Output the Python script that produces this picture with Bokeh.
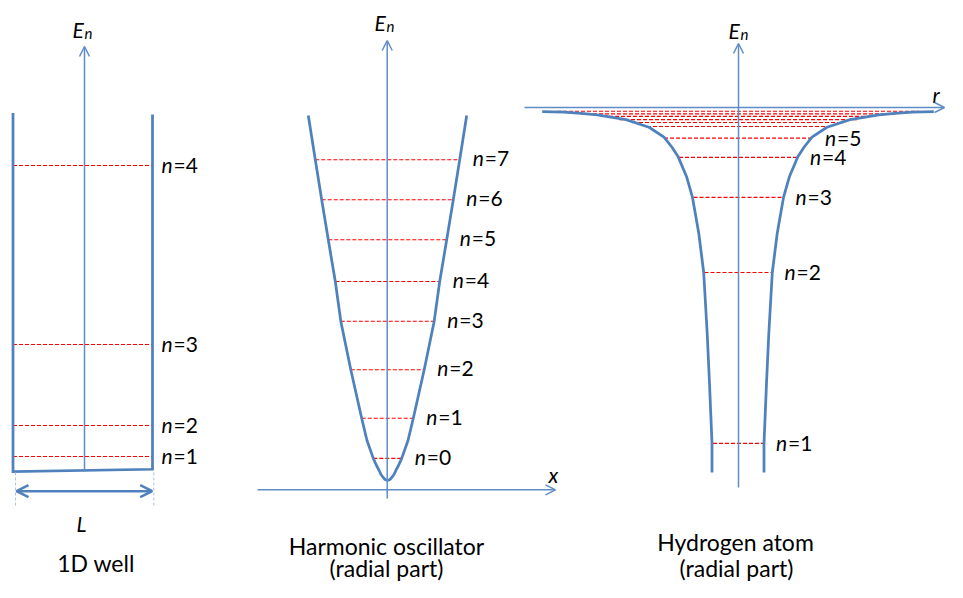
import numpy as np
from bokeh.plotting import figure
from bokeh.models import Range1d, Arrow, OpenHead, ColumnDataSource
from bokeh.embed import file_html
from bokeh.resources import INLINE
from bokeh.core.properties import value

# ---------------- data ----------------
# 1D well: energies above the well bottom (arbitrary units), wall outline (x in units of L)
well_n = [1, 2, 3, 4]
well_E = [1.0, 3.07, 8.47, 20.4]
well_wall_x = [0.0, 0.0, 1.0, 1.0]
well_wall_E = [23.9, 0.0, 0.15, 23.8]

# Harmonic oscillator: energies in units of hbar*omega, half-widths in arbitrary x units
ho_n = [0, 1, 2, 3, 4, 5, 6, 7]
ho_E = [0.52, 1.46, 2.60, 3.74, 4.67, 5.65, 6.59, 7.53]
ho_hw = [1.42, 2.58, 3.67, 4.67, 5.22, 5.92, 6.58, 7.22]
ho_wall_E = [0.0, 0.023, 0.077, 0.141, 0.235, 0.352, 0.52, 0.94, 1.46, 2.60, 3.74,
             4.67, 5.65, 6.59, 7.53, 8.57]
ho_wall_x = [0.0, 0.25, 0.45, 0.65, 0.84, 1.10, 1.42, 2.05, 2.58, 3.67, 4.67,
             5.22, 5.92, 6.58, 7.22, 7.92]

# Hydrogen atom: energies in eV, half-widths in arbitrary r units
hy_n = [1, 2, 3, 4, 5, 6, 7, 8, 9, 10, 11]
hy_E = [-13.6, -6.68, -3.64, -2.02, -1.24, -0.77, -0.61, -0.49, -0.36, -0.26, -0.15]
hy_hw = [2.5, 3.35, 4.45, 5.9, 7.4, 9.1, 10.5, 11.9, 13.5, 15.7, 18.1]
hy_labelled = 5
hy_wall_E = [-14.78, -13.6, -11.17, -9.15, -6.68, -5.10, -3.64, -2.79, -1.98, -1.61,
             -1.20, -0.80, -0.49, -0.30, -0.235, -0.19, -0.162]
hy_wall_r = [2.6, 2.6, 2.85, 3.08, 3.43, 3.92, 4.55, 5.15, 6.0, 6.6,
             7.4, 8.9, 11.2, 14.08, 15.7, 17.4, 19.58]

captions = ["1D well", "Harmonic oscillator", "(radial part)", "Hydrogen atom", "(radial part)"]

# ---------------- layout / style ----------------
W, H = 947, 582
X0, Y0 = 0, 0
BLUE = "#4F81BD"
AXC = "#5F8DC8"
RED = "#FF0000"
LIGHT = "#A9C4E6"
FONT = "Lato"
FS = "21px"
CAP_FS = "23px"

def xr(pix_at, px_per_unit, v_at=0.0):
    return Range1d(v_at + (X0 - pix_at) / px_per_unit, v_at + (X0 + W - pix_at) / px_per_unit)

def yr(pix_at, px_per_unit, v_at=0.0):
    return Range1d(v_at - (Y0 + H - pix_at) / px_per_unit, v_at + (pix_at - Y0) / px_per_unit)

p = figure(width=W, height=H, output_backend="svg", toolbar_location=None,
           x_range=Range1d(X0, X0 + W), y_range=Range1d(Y0 + H, Y0),
           x_axis_type=None, y_axis_type=None, min_border=0)
p.grid.visible = False
p.outline_line_color = None
p.background_fill_color = "white"
p.border_fill_color = "white"

p.extra_x_ranges = {"well": xr(12.5, 139.5), "ho": xr(387.0, 10.0), "hy": xr(737.5, 10.0)}
p.extra_y_ranges = {"well": yr(471.0, 15.0), "ho": yr(480.0, 42.6), "hy": yr(107.0, 24.7)}

def arrow(x0, y0, x1, y1, color=AXC, lw=1.5, size=10, both=False):
    head = dict(size=size, line_color=color, line_width=lw)
    a = Arrow(x_start=x0, y_start=y0, x_end=x1, y_end=y1, line_color=color, line_width=lw,
              end=OpenHead(**head), start=OpenHead(**head) if both else None)
    p.add_layout(a)

def txt(x, y, s, size=FS, style="normal", align="left", baseline="alphabetic", **kw):
    p.text(x=[x], y=[y], text=[s], text_font=value(FONT), text_font_size=value(size),
           text_font_style=style, text_align=align, text_baseline=baseline,
           text_color="black", **kw)

def n_labels(xs, ys, ns, rx, ry, gap, dy=-1):
    src = ColumnDataSource(dict(x=xs, y=ys, eq=["=%d" % k for k in ns], n=["n"] * len(ns)))
    common = dict(x="x", y="y", source=src, x_range_name=rx, y_range_name=ry,
                  text_font=value(FONT), text_font_size=value(FS), text_baseline="middle",
                  text_color="black", y_offset=dy)
    p.text(text="n", text_font_style="italic", x_offset=gap, **common)
    p.text(text="eq", x_offset=gap + 12, **common)

# ---- axes (drawn first, behind) ----
arrow(84, 471, 84, 46)
arrow(386.7, 498, 386.7, 40)
arrow(257, 489.3, 555, 489.3)
arrow(738, 487, 738, 43)
arrow(524, 107, 944, 107)

# ---- 1D well ----
p.segment(x0=[0.0] * 4, x1=[1.0] * 4, y0=well_E, y1=well_E, line_color=RED, line_width=1.1,
          line_dash="4 2", x_range_name="well", y_range_name="well")
p.line(well_wall_x, well_wall_E, line_color=BLUE, line_width=2.75, line_join="miter",
       x_range_name="well", y_range_name="well")
n_labels([1.0] * 4, well_E, well_n, "well", "well", 9)
p.segment(x0=[15, 153.3], x1=[15, 153.3], y0=[472, 472], y1=[507, 507], line_color=LIGHT,
          line_width=1, line_dash="3 2")
arrow(16, 490.7, 151.7, 490.7, color=BLUE, lw=2.5, size=12, both=True)
txt(81, 523, "L", style="italic", align="center")
txt(95.5, 562, captions[0], size=CAP_FS, align="center")

# ---- harmonic oscillator ----
hw = np.array(ho_hw)
p.segment(x0=-hw, x1=hw, y0=ho_E, y1=ho_E, line_color=RED, line_width=1.1, line_dash="4 2",
          x_range_name="ho", y_range_name="ho")
wx = np.array(ho_wall_x)
wE = np.array(ho_wall_E)
p.line(np.concatenate([-wx[::-1], wx[1:]]), np.concatenate([wE[::-1], wE[1:]]),
       line_color=BLUE, line_width=2.75, x_range_name="ho", y_range_name="ho")
n_labels(list(hw), ho_E, ho_n, "ho", "ho", 13, dy=-2)
txt(548, 474, "x", style="italic")
txt(386, 545, captions[1], size=CAP_FS, align="center")
txt(386, 567, captions[2], size=CAP_FS, align="center")

# ---- hydrogen atom ----
hh = np.array(hy_hw)
p.segment(x0=-hh, x1=hh, y0=hy_E, y1=hy_E, line_color=RED, line_width=1.1, line_dash="4 2",
          x_range_name="hy", y_range_name="hy")
hr = np.array(hy_wall_r)
p.multi_line(xs=[list(-hr), list(hr)], ys=[hy_wall_E, hy_wall_E], line_color=BLUE,
             line_width=2.75, line_join="round", x_range_name="hy", y_range_name="hy")
n_labels(list(hh[:hy_labelled]), hy_E[:hy_labelled], hy_n[:hy_labelled], "hy", "hy", 13)
txt(932, 94, "r", style="italic")
txt(735, 541, captions[3], size=CAP_FS, align="center")
txt(736, 567, captions[4], size=CAP_FS, align="center")

# ---- E_n axis titles ----
for ex, eb in [(72, 29), (374, 22), (728, 30)]:
    txt(ex, eb, "E", style="italic")
    txt(ex + 12, eb + 3, "n", size="15px", style="italic")

open("out.html", "w").write(file_html(p, INLINE))
